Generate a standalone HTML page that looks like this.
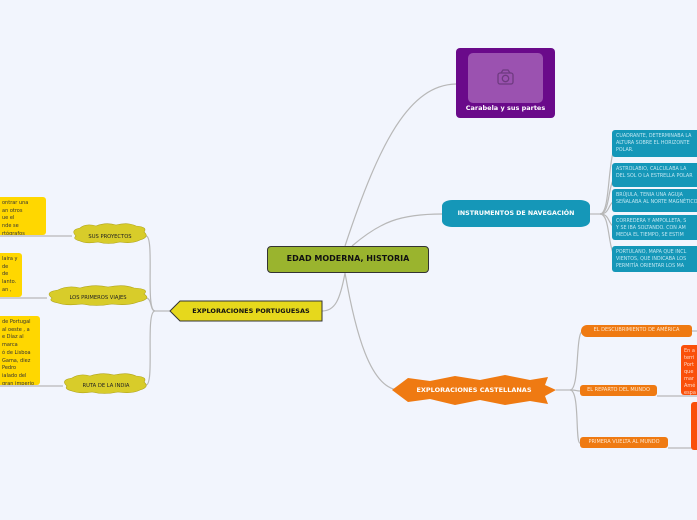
<!DOCTYPE html>
<html><head><meta charset="utf-8"><style>
*{margin:0;padding:0;box-sizing:border-box}
body{width:697px;height:520px;background:#f2f5fd;position:relative;overflow:hidden;font-family:"DejaVu Sans","Liberation Sans",sans-serif}
.a{position:absolute}
.blue{position:absolute;left:612px;width:100px;background:#1597b8;color:#bfe6f2;font-size:4.8px;line-height:7px;padding:3px 4px;border-radius:3px;white-space:nowrap;overflow:hidden}
.yel{position:absolute;left:0;background:#ffd700;color:#333;font-size:5px;line-height:7.7px;padding:3px 2px;border-radius:0 3px 3px 0;white-space:nowrap;overflow:hidden}
.on{position:absolute;background:#ef7a12;color:#ffe6cc;font-size:5px;line-height:11px;text-align:center;border-radius:3px;white-space:nowrap}
.ored{position:absolute;background:#fa4f0a;color:#ffd9c8;font-size:5px;line-height:7px;padding:3px;border-radius:3px;white-space:nowrap;overflow:hidden}
</style></head><body>
<svg class="a" style="left:0;top:0" width="697" height="520">
<g fill="none" stroke="#b8b8b8" stroke-width="1.2">
<path d="M345 246 C380 140 410 85 456 84"/>
<path d="M352 246 C380 222 400 214 442 214"/>
<path d="M590 214 L600 214"/>
<path d="M600 214 C612 214 606 143 620 143"/>
<path d="M600 214 C612 214 606 175 620 175"/>
<path d="M600 214 C612 214 606 200 620 200"/>
<path d="M600 214 C612 214 606 228 620 228"/>
<path d="M600 214 C612 214 606 259 620 259"/>
<path d="M345 273 C355 330 370 390 400 390"/>
<path d="M345 273 C340 300 335 311 322 311"/>
<path d="M170 311 L155 311"/>
<path d="M155 311 C145 311 155 236 146 236"/>
<path d="M155 311 C150 311 152 298 146 298"/>
<path d="M155 311 C145 311 155 385 146 385"/>
<path d="M72 236 L0 236"/><path d="M47 298 L0 298"/><path d="M63 386 L0 386"/>
<path d="M556 390 L570 390"/>
<path d="M570 390 C580 390 575 331 583 331"/>
<path d="M570 390 C578 390 575 391 580 391"/>
<path d="M570 390 C580 390 575 443 580 443"/>
<path d="M657 396 L697 396"/><path d="M668 448 L697 448"/><path d="M692 331 L697 331"/>
</g>
<polygon points="170,311 180,301 322,301 322,321 180,321" fill="#e6d81c" stroke="#333" stroke-width="1"/>
<polygon points="392,390 408,378 430,381 455,376 480,380 505,375 530,380 548,377 545,385 556,390 545,396 548,404 530,401 505,405 480,400 455,405 430,399 408,402" fill="#ef7a12"/>
<g fill="#d8cc2a" stroke="#b0a41a" stroke-width="0.6">
<path d="M76 236 q-6-6 4-8 q6-5 16-2 q10-4 20-1 q12-3 20 1 q12 1 8 6 q6 5-4 8 q-8 4-20 2 q-12 3-22 0 q-12 2-18-1 q-8-2-4-5z"/>
<path d="M52 298 q-8-6 6-8 q10-5 22-2 q14-4 28-1 q16-3 26 1 q16 1 10 6 q8 5-6 8 q-10 4-26 2 q-16 3-30 0 q-16 2-24-1 q-10-2-6-5z"/>
<path d="M67 386 q-7-6 5-8 q8-5 18-2 q12-4 24-1 q14-3 22 1 q12 1 8 6 q6 5-4 8 q-8 4-22 2 q-14 3-26 0 q-12 2-20-1 q-8-2-5-5z"/>
</g>
<g fill="none" stroke="#6e3a80" stroke-width="1.3"><rect x="498" y="73" width="15" height="11" rx="2"/><circle cx="505.5" cy="78.5" r="3.2"/><path d="M501 73 l2-3 h5 l2 3"/></g>
</svg>
<div class="a" style="left:267px;top:246px;width:162px;height:27px;background:#9ab42e;border:1.5px solid #333;border-radius:4px;font-weight:bold;font-size:8px;line-height:24px;text-align:center;color:#111">EDAD MODERNA, HISTORIA</div>
<div class="a" style="left:456px;top:48px;width:99px;height:70px;background:#6a0a8a;border-radius:4px;z-index:-1"></div>
<div class="a" style="left:468px;top:53px;width:75px;height:50px;background:#9b52b0;border-radius:5px;z-index:-1"></div>
<div class="a" style="left:456px;top:104px;width:99px;font-size:6.5px;font-weight:bold;color:#fff;text-align:center">Carabela y sus partes</div>
<div class="a" style="left:442px;top:200px;width:148px;height:27px;background:#1597b8;border-radius:10px/6px;color:#fff;font-weight:bold;font-size:6.3px;line-height:27px;text-align:center">INSTRUMENTOS DE NAVEGACIÓN</div>
<div class="blue" style="top:130px;height:27px">CUADRANTE, DETERMINABA LA<br>ALTURA SOBRE EL HORIZONTE<br>POLAR.</div>
<div class="blue" style="top:163px;height:24px">ASTROLABIO, CALCULABA LA<br>DEL SOL O LA ESTRELLA POLAR</div>
<div class="blue" style="top:189px;height:23px">BRÚJULA, TENIA UNA AGUJA<br>SEÑALABA AL NORTE MAGNÉTICO</div>
<div class="blue" style="top:215px;height:25px">CORREDERA Y AMPOLLETA, S<br>Y SE IBA SOLTANDO. CON AM<br>MEDIA EL TIEMPO, SE ESTIM</div>
<div class="blue" style="top:246px;height:26px">PORTULANO, MAPA QUE INCL<br>VIENTOS, QUE INDICABA LOS<br>PERMITÍA ORIENTAR LOS MA</div>
<div class="a" style="left:180px;top:301px;width:142px;height:20px;font-weight:bold;font-size:6.5px;line-height:21px;text-align:center;color:#111">EXPLORACIONES PORTUGUESAS</div>
<div class="a" style="left:392px;top:375px;width:164px;height:30px;font-weight:bold;font-size:6.5px;line-height:30px;text-align:center;color:#fff">EXPLORACIONES CASTELLANAS</div>
<div class="a" style="left:72px;top:234px;width:76px;font-size:5.2px;text-align:center;color:#222">SUS PROYECTOS</div>
<div class="a" style="left:47px;top:295px;width:102px;font-size:5.2px;text-align:center;color:#222">LOS PRIMEROS VIAJES</div>
<div class="a" style="left:63px;top:383px;width:86px;font-size:5.2px;text-align:center;color:#222">RUTA DE LA INDIA</div>
<div class="yel" style="top:197px;width:46px;height:38px">ontrar una<br>an otros<br>ue el<br>nde se<br>rtógrafos</div>
<div class="yel" style="top:253px;width:22px;height:44px">laira y<br>de<br>de<br>lanto.<br>an ,</div>
<div class="yel" style="top:316px;width:40px;height:69px">de Portugal<br>al oeste , a<br>e Díaz al<br>marca<br>ó de Lisboa<br>Gama, diez<br>Pedro<br>ialado del<br>gran imperio</div>
<div class="on" style="left:581px;top:325px;width:111px;height:12px;border-radius:6px 3px 3px 6px">EL DESCUBRIMIENTO DE AMÉRICA</div>
<div class="on" style="left:580px;top:385px;width:77px;height:11px">EL REPARTO DEL MUNDO</div>
<div class="on" style="left:580px;top:437px;width:88px;height:11px">PRIMERA VUELTA AL MUNDO</div>
<div class="ored" style="left:681px;top:345px;width:30px;height:50px">En a<br>terri<br>Port<br>que<br>mar<br>Amé<br>espa</div>
<div class="ored" style="left:691px;top:402px;width:20px;height:48px"></div>
</body></html>
